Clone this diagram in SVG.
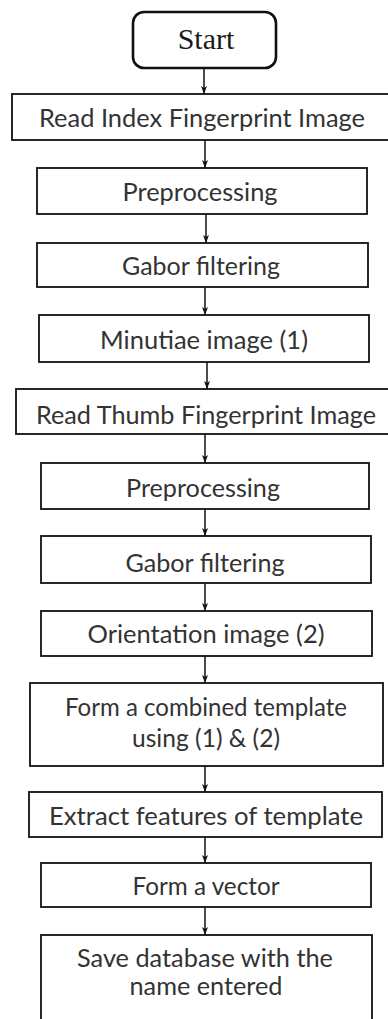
<svg xmlns="http://www.w3.org/2000/svg" width="388" height="1019" viewBox="0 0 388 1019">
  <style>
    .box { fill: #ffffff; stroke: #111111; stroke-width: 1.8; }
    .start { fill: #ffffff; stroke: #111111; stroke-width: 2.6; }
    .lbl { font-family: Lato, "Liberation Sans", sans-serif; font-size: 25px; fill: #333333; text-anchor: middle; }
    .serif { font-family: "Liberation Serif", "DejaVu Serif", serif; font-size: 30px; fill: #1a1a1a; text-anchor: middle; }
    .edge { stroke: #111111; stroke-width: 1.5; fill: none; marker-end: url(#arrow); }
  </style>
  <defs>
    <marker id="arrow" viewBox="0 0 8 6" refX="8" refY="3" markerWidth="8" markerHeight="6" markerUnits="userSpaceOnUse" orient="auto">
      <path d="M0,0 L8,3 L0,6 L2,3 z" fill="#111111"/>
    </marker>
  </defs>

  <rect width="388" height="1019" fill="#ffffff"/>

  <!-- connectors -->
  <g id="connectors">
    <line class="edge" x1="204" y1="68" x2="204" y2="94"/>
    <line class="edge" x1="205" y1="140" x2="205" y2="168"/>
    <line class="edge" x1="206" y1="214" x2="206" y2="243"/>
    <line class="edge" x1="205" y1="287" x2="205" y2="315"/>
    <line class="edge" x1="207" y1="362" x2="207" y2="389"/>
    <line class="edge" x1="205" y1="434" x2="205" y2="463"/>
    <line class="edge" x1="205" y1="509" x2="205" y2="536"/>
    <line class="edge" x1="205" y1="583" x2="205" y2="611"/>
    <line class="edge" x1="205" y1="656" x2="205" y2="683"/>
    <line class="edge" x1="205" y1="766" x2="205" y2="792"/>
    <line class="edge" x1="205" y1="837" x2="205" y2="863"/>
    <line class="edge" x1="205" y1="907" x2="205" y2="935"/>
  </g>

  <!-- nodes -->
  <g id="start">
    <rect class="start" x="133" y="12" width="143" height="56" rx="11"/>
    <text class="serif" x="206" y="49">Start</text>
  </g>
  <g id="read-index">
    <rect class="box" x="12" y="94" width="384" height="46"/>
    <text class="lbl" x="202" y="127" textLength="326" lengthAdjust="spacingAndGlyphs">Read Index Fingerprint Image</text>
  </g>
  <g id="preprocessing-1">
    <rect class="box" x="37" y="168" width="330" height="46"/>
    <text class="lbl" x="200" y="201" textLength="155" lengthAdjust="spacingAndGlyphs">Preprocessing</text>
  </g>
  <g id="gabor-1">
    <rect class="box" x="37" y="243" width="331" height="44"/>
    <text class="lbl" x="201" y="275" textLength="158" lengthAdjust="spacingAndGlyphs">Gabor filtering</text>
  </g>
  <g id="minutiae">
    <rect class="box" x="39" y="315" width="330" height="47"/>
    <text class="lbl" x="204" y="349" textLength="208" lengthAdjust="spacingAndGlyphs">Minutiae image (1)</text>
  </g>
  <g id="read-thumb">
    <rect class="box" x="16" y="389" width="380" height="45"/>
    <text class="lbl" x="206" y="424" textLength="340" lengthAdjust="spacingAndGlyphs">Read Thumb Fingerprint Image</text>
  </g>
  <g id="preprocessing-2">
    <rect class="box" x="41" y="463" width="328" height="46"/>
    <text class="lbl" x="203" y="497" textLength="154" lengthAdjust="spacingAndGlyphs">Preprocessing</text>
  </g>
  <g id="gabor-2">
    <rect class="box" x="41" y="536" width="330" height="47"/>
    <text class="lbl" x="205" y="572" textLength="159" lengthAdjust="spacingAndGlyphs">Gabor filtering</text>
  </g>
  <g id="orientation">
    <rect class="box" x="41" y="611" width="331" height="45"/>
    <text class="lbl" x="206" y="643" textLength="237" lengthAdjust="spacingAndGlyphs">Orientation image (2)</text>
  </g>
  <g id="combine">
    <rect class="box" x="30" y="683" width="353" height="83"/>
    <text class="lbl" x="206" y="716" textLength="282" lengthAdjust="spacingAndGlyphs">Form a combined template</text>
    <text class="lbl" x="206" y="747" textLength="148" lengthAdjust="spacingAndGlyphs">using (1) &amp; (2)</text>
  </g>
  <g id="extract">
    <rect class="box" x="29" y="792" width="353" height="45"/>
    <text class="lbl" x="206" y="825" textLength="314" lengthAdjust="spacingAndGlyphs">Extract features of template</text>
  </g>
  <g id="vector">
    <rect class="box" x="41" y="863" width="330" height="44"/>
    <text class="lbl" x="206" y="895" textLength="147" lengthAdjust="spacingAndGlyphs">Form a vector</text>
  </g>
  <g id="save">
    <rect class="box" x="41" y="935" width="331" height="90"/>
    <text class="lbl" x="205" y="967" textLength="256" lengthAdjust="spacingAndGlyphs">Save database with the</text>
    <text class="lbl" x="206" y="995" textLength="153" lengthAdjust="spacingAndGlyphs">name entered</text>
  </g>
</svg>
